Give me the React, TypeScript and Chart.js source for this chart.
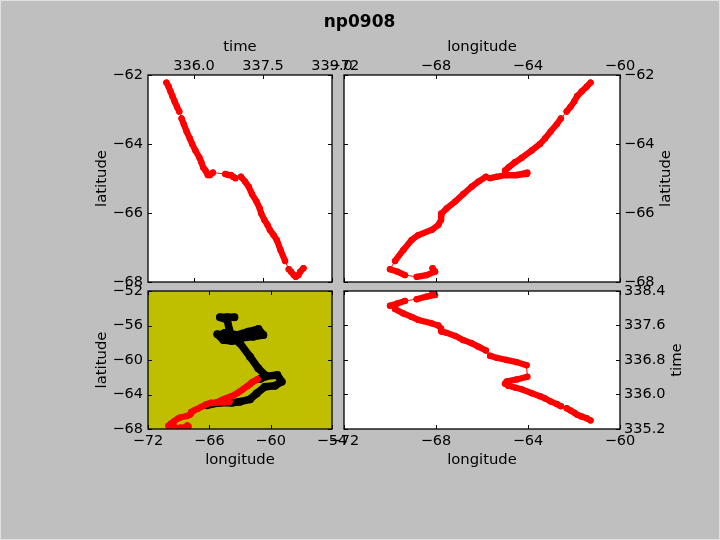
import React, { useEffect, useRef } from "react";
import { Chart, registerables } from "chart.js";

Chart.register(...registerables);

const chartTitle = "np0908";

const times = [335.4, 335.45, 335.49, 335.53, 335.58, 335.63, 335.68, 335.73, 335.78, 335.84, 335.91, 335.96, 336.03, 336.12, 336.16, 336.2, 336.25, 336.3, 336.35, 336.41, 336.68, 336.75, 336.8, 336.85, 336.9, 337.02, 337.11, 337.19, 337.26, 337.36, 337.43, 337.46, 337.53, 337.6, 337.65, 337.73, 337.8, 337.88, 337.98, 338.06, 338.11, 338.17, 338.21, 338.27, 338.31, 338.38];
const lons = [-61.28, -61.45, -61.67, -61.86, -61.99, -62.15, -62.32, -62.57, -62.75, -63.02, -63.26, -63.48, -63.84, -64.27, -64.57, -64.85, -65.0, -64.93, -64.49, -64.03, -64.06, -64.49, -64.93, -65.36, -65.65, -65.83, -66.16, -66.45, -66.81, -67.17, -67.54, -67.75, -67.78, -67.9, -68.19, -68.77, -69.06, -69.42, -69.78, -70.0, -69.68, -69.35, -68.84, -68.41, -68.04, -68.15];
const lats = [-62.22, -62.34, -62.48, -62.61, -62.77, -62.92, -63.06, -63.26, -63.43, -63.64, -63.84, -64.0, -64.19, -64.4, -64.53, -64.68, -64.77, -64.9, -64.9, -64.83, -64.87, -64.9, -64.9, -64.95, -64.99, -64.95, -65.09, -65.24, -65.45, -65.67, -65.87, -66.01, -66.2, -66.35, -66.49, -66.64, -66.78, -67.07, -67.39, -67.63, -67.7, -67.8, -67.85, -67.8, -67.7, -67.6];
const gapStarts = [6, 19, 24, 38, 41];

const otherLons = [-63.55, -64.24, -64.96, -64.24, -64.04, -64.96, -65.22, -64.63, -63.81, -63.0, -61.7, -60.72, -61.2, -62.19, -63.33, -63.98, -64.8, -63.98, -63.0, -62.02, -61.21, -60.46, -61.04, -60.46, -59.35, -58.92, -59.58, -60.55, -61.37, -62.02, -63.0, -63.81, -64.96, -66.26];
const otherLats = [-55.05, -55.05, -55.05, -55.36, -56.52, -57.1, -57.02, -57.68, -57.8, -57.49, -57.29, -57.1, -56.41, -56.72, -57.1, -56.9, -57.1, -57.3, -58.07, -59.61, -60.97, -61.82, -62.2, -61.9, -61.74, -62.51, -62.98, -63.09, -63.87, -64.56, -64.83, -64.95, -64.95, -65.25];

const timeTicksX = [336.0, 337.5, 339.0];
const latTicks = [-62, -64, -66, -68];
const lonTicksWide = [-72, -68, -64, -60];
const lonTicksFull = [-72, -66, -60, -54];
const latTicksFull = [-52, -56, -60, -64, -68];
const timeTicksY = [335.2, 336.0, 336.8, 337.6, 338.4];

const FONT = "'DejaVu Sans'";
const SIZE = 14.5;
const TITLE_SIZE = 14.8;
const minus = (v: number) => String(v).replace("-", "\u2212");
const fixed1 = (v: number) => v.toFixed(1);

const zip = (xs: number[], ys: number[]) => xs.map((x, i) => ({ x, y: ys[i] }));

const trackDataset = (xs: number[], ys: number[]) => ({
  data: zip(xs, ys),
  showLine: true,
  borderColor: "#ff0000",
  backgroundColor: "#ff0000",
  pointRadius: 3.2,
  pointBorderWidth: 0,
  borderWidth: 6.2,
  borderCapStyle: "round",
  borderJoinStyle: "round",
  segment: {
    borderWidth: (c: any) => (gapStarts.includes(c.p0DataIndex) ? 1 : 6.2),
  },
});

const axis = (
  position: string,
  min: number,
  max: number,
  values: number[],
  fmt: (v: number) => string,
  size: number,
  title?: string
) => ({
  type: "linear",
  position,
  min,
  max,
  afterBuildTicks: (s: any) => {
    s.ticks = values.map((value) => ({ value }));
  },
  afterFit: (s: any) => {
    if (position === "left" || position === "right") s.width = size;
    else s.height = size;
  },
  grid: { display: false, drawTicks: false },
  border: { display: false },
  ticks: {
    color: "#000",
    autoSkip: false,
    maxRotation: 0,
    minRotation: 0,
    padding: position === "top" ? 0 : position === "left" ? 5 : 4,
    font: { family: FONT, size: SIZE },
    callback: (v: any) => fmt(Number(v)),
  },
  title: title
    ? { display: true, text: title, color: "#000", padding: 0, font: { family: FONT, size: TITLE_SIZE } }
    : { display: false },
});

const framePlugin = (bg: string, rightTitle?: string, rightX?: number, heading?: string) => ({
  id: "frame",
  beforeDatasetsDraw(chart: any) {
    const { ctx, chartArea: a } = chart;
    ctx.save();
    ctx.fillStyle = bg;
    ctx.fillRect(a.left, a.top, a.right - a.left, a.bottom - a.top);
    ctx.restore();
  },
  afterDatasetsDraw(chart: any) {
    const { ctx, chartArea: a, scales } = chart;
    ctx.save();
    ctx.strokeStyle = "#000";
    ctx.lineWidth = 1;
    const L = 4;
    ctx.beginPath();
    scales.x.ticks.forEach((t: any) => {
      const p = Math.round(scales.x.getPixelForValue(t.value)) + 0.5;
      ctx.moveTo(p, a.top);
      ctx.lineTo(p, a.top + L);
      ctx.moveTo(p, a.bottom);
      ctx.lineTo(p, a.bottom - L);
    });
    scales.y.ticks.forEach((t: any) => {
      const p = Math.round(scales.y.getPixelForValue(t.value)) + 0.5;
      ctx.moveTo(a.left, p);
      ctx.lineTo(a.left + L, p);
      ctx.moveTo(a.right, p);
      ctx.lineTo(a.right - L, p);
    });
    ctx.stroke();
    ctx.lineWidth = 1.3;
    ctx.strokeRect(a.left, a.top, a.right - a.left, a.bottom - a.top);
    ctx.fillStyle = "#000";
    ctx.textAlign = "center";
    ctx.textBaseline = "middle";
    if (heading) {
      ctx.font = `bold 17px ${FONT}`;
      ctx.fillText(heading, 359.5, 22.5);
    }
    if (rightTitle) {
      ctx.font = `${TITLE_SIZE}px ${FONT}`;
      ctx.translate(rightX as number, (a.top + a.bottom) / 2);
      ctx.rotate(-Math.PI / 2);
      ctx.fillText(rightTitle, 0, 0);
    }
    ctx.restore();
  },
});

const TOP_H = 37;
const LEFT_W = 55;
const RIGHT_W = 100;
const BOTTOM_H = 40;

const panels: any[] = [
  {
    datasets: [trackDataset(times, lats)],
    padding: { left: 93, right: 388, top: 38, bottom: 258 },
    x: axis("top", 335, 339, timeTicksX, fixed1, TOP_H, "time"),
    y: axis("left", -68, -62, latTicks, minus, LEFT_W, "latitude"),
    plugin: framePlugin("#ffffff", undefined, undefined, chartTitle),
  },
  {
    datasets: [trackDataset(lons, lats)],
    padding: { left: 344, right: 0, top: 38, bottom: 258 },
    x: axis("top", -72, -60, lonTicksWide, minus, TOP_H, "longitude"),
    y: axis("right", -68, -62, latTicks, minus, RIGHT_W),
    plugin: framePlugin("#ffffff", "latitude", 666),
  },
  {
    datasets: [
      trackDataset(lons, lats),
      {
        data: zip(otherLons, otherLats),
        showLine: true,
        borderColor: "#000000",
        backgroundColor: "#000000",
        pointRadius: 4,
        pointBorderWidth: 0,
        borderWidth: 7.5,
        borderCapStyle: "round",
        borderJoinStyle: "round",
      },
    ],
    padding: { left: 93, right: 388, top: 291, bottom: 71 },
    x: axis("bottom", -72, -54, lonTicksFull, minus, BOTTOM_H, "longitude"),
    y: axis("left", -68, -52, latTicksFull, minus, LEFT_W, "latitude"),
    plugin: framePlugin("#bfbf00"),
  },
  {
    datasets: [trackDataset(lons, times)],
    padding: { left: 344, right: 0, top: 291, bottom: 71 },
    x: axis("bottom", -72, -60, lonTicksWide, minus, BOTTOM_H, "longitude"),
    y: axis("right", 335.2, 338.4, timeTicksY, fixed1, RIGHT_W),
    plugin: framePlugin("#ffffff", "time", 677),
  },
];

const layerStyle: React.CSSProperties = {
  position: "absolute",
  left: 0,
  top: 0,
  width: 720,
  height: 540,
};

function Panel({ spec }: { spec: any }) {
  const ref = useRef<HTMLCanvasElement>(null);
  useEffect(() => {
    const chart = new Chart(ref.current as HTMLCanvasElement, {
      type: "scatter",
      data: { datasets: spec.datasets },
      options: {
        animation: false,
        responsive: false,
        devicePixelRatio: 1,
        layout: { padding: spec.padding },
        scales: { x: spec.x, y: spec.y },
        plugins: {
          legend: { display: false },
          tooltip: { enabled: false },
          title: { display: false },
        },
      },
      plugins: [spec.plugin],
    } as any);
    return () => chart.destroy();
  }, [spec]);
  return <canvas ref={ref} width={720} height={540} style={layerStyle} />;
}

export default function App() {
  return (
    <div
      style={{
        position: "fixed",
        left: 0,
        top: 0,
        width: 720,
        height: 540,
        background: "#bfbfbf",
        boxShadow: "inset 0 0 0 1px #e0e0e0",
      }}
    >
      {panels.map((spec, i) => (
        <Panel key={i} spec={spec} />
      ))}
    </div>
  );
}
